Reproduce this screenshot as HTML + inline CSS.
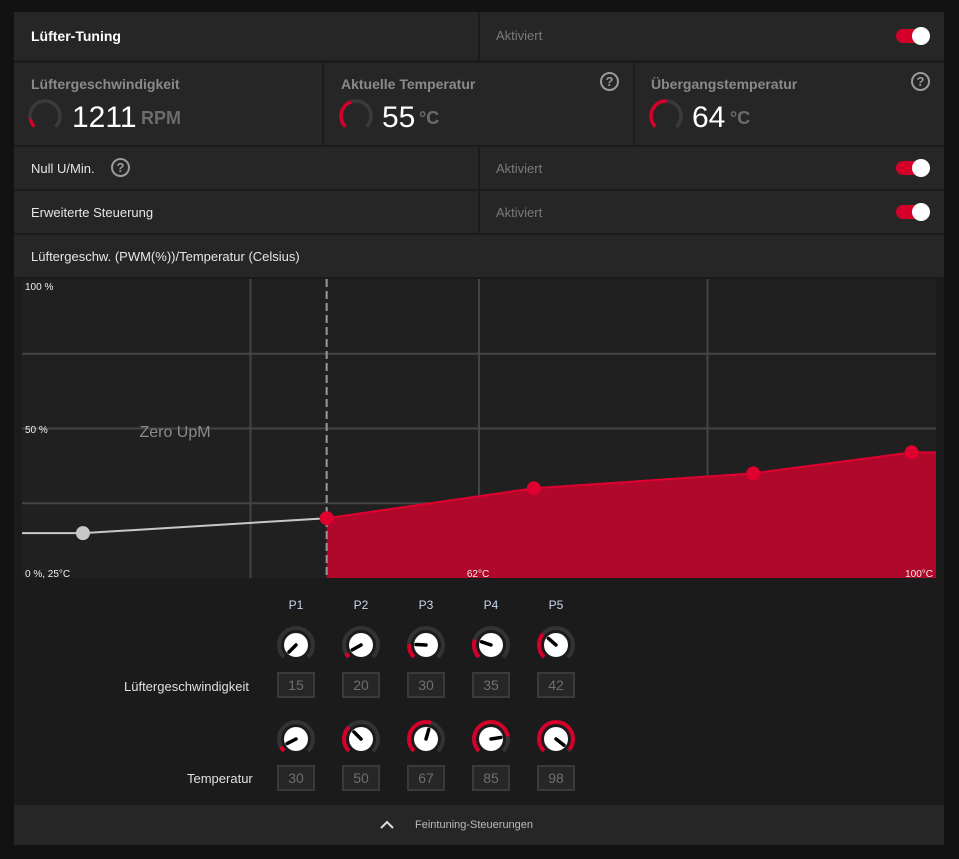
<!DOCTYPE html>
<html><head><meta charset="utf-8">
<style>
*{box-sizing:border-box;margin:0;padding:0}
body{width:959px;height:859px;background:#121212;font-family:"Liberation Sans",sans-serif;position:relative;overflow:hidden;color:#ddd}
.a{position:absolute}
.cell{position:absolute;background:#262626}
.lbl{position:absolute;font-size:13px;color:#e6e6e6}
.muted{color:#7a7a7a}
.tog{position:absolute;width:32px;height:14px;border-radius:7px;background:#d4002a}
.tog::after{content:"";position:absolute;right:-2px;top:-2px;width:18px;height:18px;border-radius:50%;background:#fff}
.q{position:absolute;width:19px;height:19px;border:2px solid #9a9a9a;border-radius:50%;color:#9a9a9a;font-size:13px;font-weight:bold;text-align:center;line-height:15px}
.stt{position:absolute;font-size:14px;font-weight:bold;color:#8a8a8a}
.big{position:absolute;font-size:30px;color:#fff}
.unit{position:absolute;font-size:18px;font-weight:bold;color:#6c6c6c}
.inp{position:absolute;width:38px;height:26px;border:2px solid #3a3a3a;background:#262626;color:#6e6e6e;font-size:14px;text-align:center;line-height:22px}
.pl{position:absolute;font-size:12px;color:#c8d8ee;width:30px;text-align:center}
</style></head><body>
<div class="a" style="left:14px;top:12px;width:930px;height:833px;background:#1b1b1b"></div>
<div class="cell" style="left:14px;top:12px;width:464px;height:48px"></div>
<div class="cell" style="left:480px;top:12px;width:464px;height:48px"></div>
<div class="lbl" style="left:31px;top:28px;font-weight:bold;color:#fff;font-size:14px">Lüfter-Tuning</div>
<div class="lbl muted" style="left:496px;top:28px">Aktiviert</div>
<div class="tog" style="left:896px;top:29px"></div>

<div class="cell" style="left:14px;top:63px;width:308px;height:82px"></div>
<div class="cell" style="left:324px;top:63px;width:309px;height:82px"></div>
<div class="cell" style="left:635px;top:63px;width:309px;height:82px"></div>
<div class="stt" style="left:31px;top:76px">Lüftergeschwindigkeit</div>
<div class="stt" style="left:341px;top:76px">Aktuelle Temperatur</div>
<div class="stt" style="left:651px;top:76px">Übergangstemperatur</div>
<div class="q" style="left:600px;top:72px">?</div>
<div class="q" style="left:911px;top:72px">?</div>
<svg class="a" style="left:0;top:0" width="959" height="160">
<g fill="none" stroke-width="3.5">
<circle cx="45" cy="116" r="15" stroke="#3a3a3a" stroke-dasharray="70.7 100" transform="rotate(135 45 116)"/>
<circle cx="45" cy="116" r="15" stroke="#d4002a" stroke-dasharray="9 100" transform="rotate(135 45 116)"/>
<circle cx="356" cy="116" r="15" stroke="#3a3a3a" stroke-dasharray="70.7 100" transform="rotate(135 356 116)"/>
<circle cx="356" cy="116" r="15" stroke="#d4002a" stroke-dasharray="30 100" transform="rotate(135 356 116)"/>
<circle cx="666" cy="116" r="15" stroke="#3a3a3a" stroke-dasharray="70.7 100" transform="rotate(135 666 116)"/>
<circle cx="666" cy="116" r="15" stroke="#d4002a" stroke-dasharray="36 100" transform="rotate(135 666 116)"/>
</g></svg>
<div class="big" style="left:72px;top:101px">1211</div>
<div class="unit" style="left:141px;top:108px">RPM</div>
<div class="big" style="left:382px;top:101px">55</div>
<div class="unit" style="left:419px;top:108px">°C</div>
<div class="big" style="left:692px;top:101px">64</div>
<div class="unit" style="left:730px;top:108px">°C</div>

<div class="cell" style="left:14px;top:147px;width:464px;height:42px"></div>
<div class="cell" style="left:480px;top:147px;width:464px;height:42px"></div>
<div class="lbl" style="left:31px;top:161px">Null U/Min.</div>
<div class="q" style="left:111px;top:158px">?</div>
<div class="lbl muted" style="left:496px;top:161px">Aktiviert</div>
<div class="tog" style="left:896px;top:161px"></div>

<div class="cell" style="left:14px;top:191px;width:464px;height:42px"></div>
<div class="cell" style="left:480px;top:191px;width:464px;height:42px"></div>
<div class="lbl" style="left:31px;top:205px">Erweiterte Steuerung</div>
<div class="lbl muted" style="left:496px;top:205px">Aktiviert</div>
<div class="tog" style="left:896px;top:205px"></div>

<div class="cell" style="left:14px;top:235px;width:930px;height:42px"></div>
<div class="lbl" style="left:31px;top:249px">Lüftergeschw. (PWM(%))/Temperatur (Celsius)</div>

<svg id="chart" class="a" style="left:0;top:0" width="959" height="859"></svg>

<div class="lbl" style="left:124px;top:679px;color:#e0e0e0">Lüftergeschwindigkeit</div>
<div class="lbl" style="left:187px;top:771px;color:#e0e0e0">Temperatur</div>
<div id="ctrls"></div>

<div class="cell" style="left:14px;top:805px;width:930px;height:40px"></div>
<svg class="a" style="left:380px;top:820px" width="14" height="10"><path d="M1 8 L7 2 L13 8" stroke="#ddd" stroke-width="2" fill="none"/></svg>
<div class="lbl" style="left:415px;top:819px;font-size:11px;color:#bbb">Feintuning-Steuerungen</div>

<script>
const pointNames=["P1","P2","P3","P4","P5"];
const speeds=[15,20,30,35,42];
const temps=[30,50,67,85,98];
const yTickLabels=["100 %","50 %"];
const NS="http://www.w3.org/2000/svg";
const X0=22,X1=936,Y0=578,Y1=279,TMIN=25,TMAX=100;
function sx(t){return X0+(t-TMIN)/(TMAX-TMIN)*(X1-X0);}
function sy(p){return Y0-p/100*(Y0-Y1);}
const svg=document.getElementById('chart');
function mk(tag,at){const e=document.createElementNS(NS,tag);for(const k in at)e.setAttribute(k,at[k]);svg.appendChild(e);return e;}
let e=mk('rect',{x:X0,y:Y1,width:X1-X0,height:Y0-Y1,fill:'#202020'});


[25,50,75].forEach(p=>{const g=mk('line',{x1:X0,x2:X1,y1:sy(p),y2:sy(p),stroke:'#444','stroke-width':2});

});
[25,50,75].forEach(f=>{const x=X0+f/100*(X1-X0);const g=mk('line',{x1:x,x2:x,y1:Y1,y2:Y0,stroke:'#444','stroke-width':2});

});
// fill
let pts=[];for(let i=1;i<temps.length;i++)pts.push(sx(temps[i])+','+sy(speeds[i]));
pts.push(X1+','+sy(speeds[speeds.length-1]));
const area=mk('polygon',{points:sx(temps[1])+','+Y0+' '+pts.join(' ')+' '+X1+','+Y0,fill:'#b0082a'});


const ln=mk('polyline',{points:pts.join(' '),fill:'none',stroke:'#e0002f','stroke-width':2});


const gl=mk('polyline',{points:X0+','+sy(speeds[0])+' '+sx(temps[0])+','+sy(speeds[0])+' '+sx(temps[1])+','+sy(speeds[1]),fill:'none',stroke:'#c8c8c8','stroke-width':2});


const dl=mk('line',{x1:sx(temps[1]),x2:sx(temps[1]),y1:Y1,y2:Y0,stroke:'#999','stroke-width':2,'stroke-dasharray':'8 4'});


temps.forEach((t,i)=>{const c=mk('circle',{cx:sx(t),cy:sy(speeds[i]),r:7,fill:i==0?'#c8c8c8':'#e0002f'});

});
function tx(x,y,s,sz,col,name,anchor){const t=mk('text',{x:x,y:y,fill:col,'font-size':sz,'font-family':'Liberation Sans, sans-serif','text-anchor':anchor||'start'});t.textContent=s;

}
tx(25,290,yTickLabels[0],10,'#eee','y-tick-100');
tx(25,433,yTickLabels[1],10,'#eee','y-tick-50');
tx(25,577,'0 %, 25°C',10,'#eee','origin-label');
tx(478,577,'62°C',10,'#eee','x-tick-62','middle');
tx(933,577,'100°C',10,'#eee','x-tick-100','end');
tx(175,437,'Zero UpM',16,'#8a8a8a','zero-rpm-region-label','middle');
// controls
const cols=[296,361,426,491,556];
const ctr=document.getElementById('ctrls');
function knob(cx,cy,frac,name){
 const a0=135,a=a0+frac*270,r=17;
 const C=2*Math.PI*r;
 const k=mk('g',{});
 
 
 const add=(tag,at)=>{const e=document.createElementNS(NS,tag);for(const q in at)e.setAttribute(q,at[q]);k.appendChild(e);};
 add('circle',{cx:cx,cy:cy,r:r,fill:'none',stroke:'#333','stroke-width':4,'stroke-dasharray':(C*0.75)+' '+C,transform:`rotate(${a0} ${cx} ${cy})`});
 if(frac>0)add('circle',{cx:cx,cy:cy,r:r,fill:'none',stroke:'#d4002a','stroke-width':4,'stroke-dasharray':(C*0.75*frac)+' '+C,transform:`rotate(${a0} ${cx} ${cy})`});
 add('circle',{cx:cx,cy:cy,r:12,fill:'#fff'});
 const rad=a*Math.PI/180;
 add('line',{x1:cx,y1:cy,x2:cx+10*Math.cos(rad),y2:cy+10*Math.sin(rad),stroke:'#000','stroke-width':3.5,'stroke-linecap':'round'});
}
function input(x,y,v,name){const d=document.createElement('div');d.className='inp';d.style.left=(x-19)+'px';d.style.top=y+'px';d.textContent=v;


ctr.appendChild(d);}
pointNames.forEach((p,i)=>{
 const d=document.createElement('div');d.className='pl';d.style.left=(cols[i]-15)+'px';d.style.top='598px';d.textContent=p;
 
 
 ctr.appendChild(d);
 knob(cols[i],645,(speeds[i]-15)/85,'speed-knob-'+p.toLowerCase());
 input(cols[i],672,speeds[i],'speed-input-'+p.toLowerCase());
 knob(cols[i],739,(temps[i]-25)/75,'temp-knob-'+p.toLowerCase());
 input(cols[i],765,temps[i],'temp-input-'+p.toLowerCase());
});
</script>
</body></html>
